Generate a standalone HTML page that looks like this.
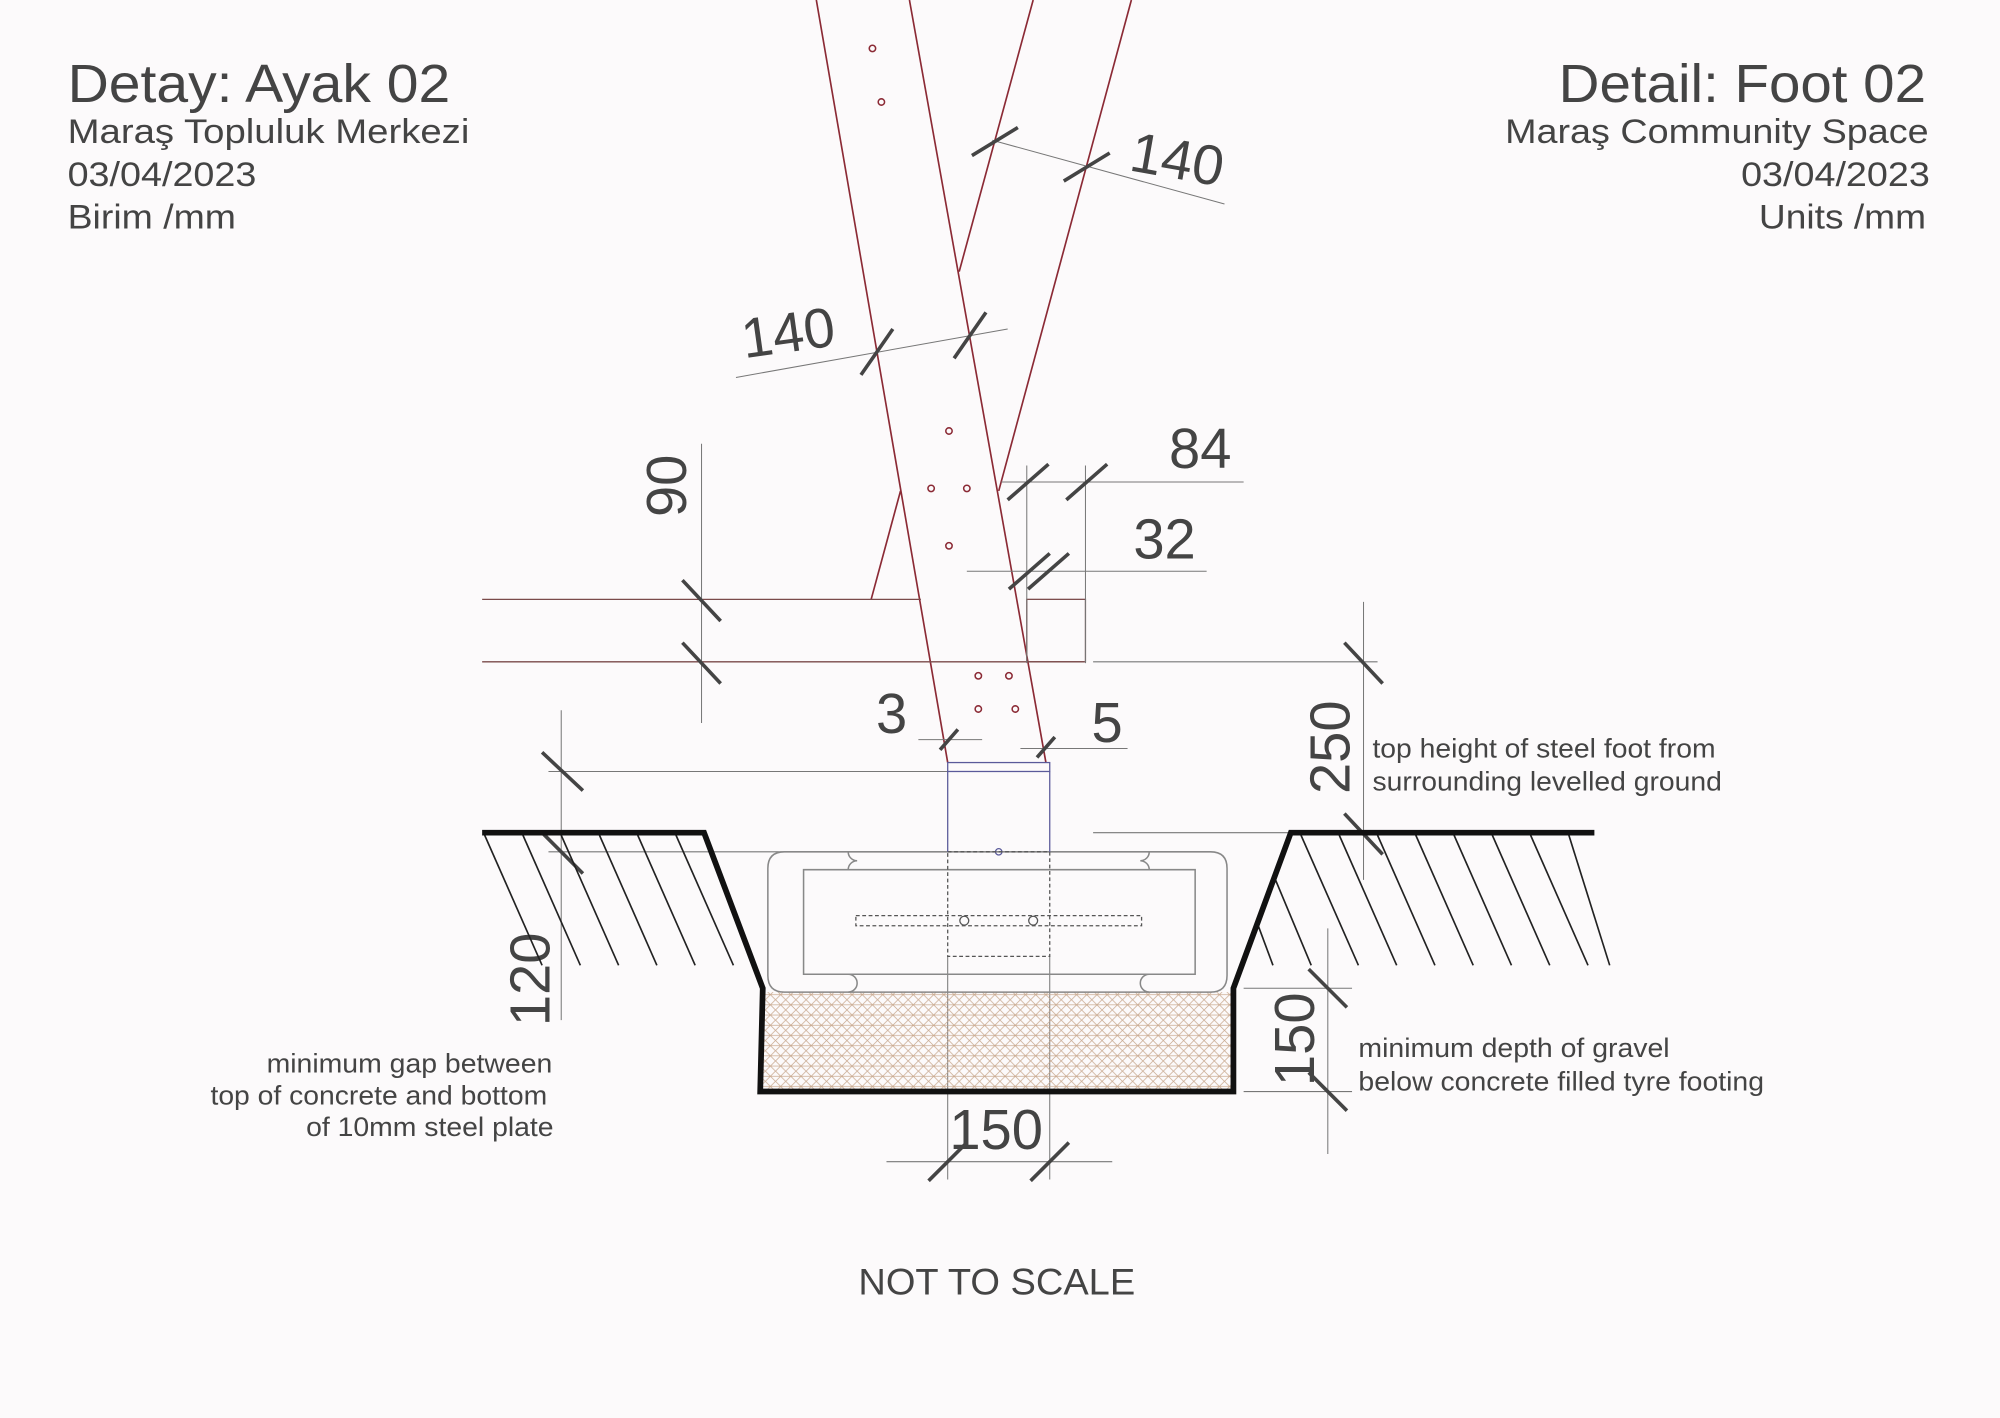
<!DOCTYPE html>
<html><head><meta charset="utf-8"><style>
html,body{margin:0;padding:0;background:#fcfafb;}
svg{display:block}
text{font-family:"Liberation Sans",sans-serif;fill:#444;}
</style></head><body>
<svg width="2000" height="1418" viewBox="0 0 1568 1112" preserveAspectRatio="none" xmlns="http://www.w3.org/2000/svg">
<defs>
<pattern id="grav" width="8" height="8" patternUnits="userSpaceOnUse">
<path d="M0 8 L8 0 M0 0 L8 8 M0 4 L8 4" stroke="#c9a98f" stroke-width="0.6" fill="none"/>
</pattern>
</defs>
<rect width="1568" height="1112" fill="#fcfafb"/>
<!-- titles -->
<g lengthAdjust="spacingAndGlyphs">
<text x="53" y="80" font-size="42" textLength="300" lengthAdjust="spacingAndGlyphs">Detay: Ayak 02</text>
<text x="53" y="112" font-size="27" textLength="315" lengthAdjust="spacingAndGlyphs">Maraş Topluluk Merkezi</text>
<text x="53" y="146" font-size="27" textLength="148" lengthAdjust="spacingAndGlyphs">03/04/2023</text>
<text x="53" y="179" font-size="27" textLength="132" lengthAdjust="spacingAndGlyphs">Birim /mm</text>
<text x="1222" y="80" font-size="42" textLength="288" lengthAdjust="spacingAndGlyphs">Detail: Foot 02</text>
<text x="1180" y="112" font-size="27" textLength="332" lengthAdjust="spacingAndGlyphs">Maraş Community Space</text>
<text x="1365" y="146" font-size="27" textLength="148" lengthAdjust="spacingAndGlyphs">03/04/2023</text>
<text x="1379" y="179" font-size="27" textLength="131" lengthAdjust="spacingAndGlyphs">Units /mm</text>
<text x="673" y="1015" font-size="29" textLength="217" lengthAdjust="spacingAndGlyphs">NOT TO SCALE</text>
</g>

<!-- timber members -->
<g stroke="#8b2a35" stroke-width="1.3" fill="none">
<line x1="640" y1="0" x2="743" y2="598"/>
<line x1="713" y1="0" x2="820" y2="598"/>
<line x1="810" y1="0" x2="752" y2="213"/>
<line x1="706" y1="385" x2="683" y2="470"/>
<line x1="887" y1="0" x2="783" y2="385"/>
</g>
<g fill="none" stroke="#8b2a35" stroke-width="1.2">
<circle cx="684" cy="38" r="2.5"/><circle cx="691" cy="80" r="2.5"/>
<circle cx="744" cy="338" r="2.5"/><circle cx="730" cy="383" r="2.5"/><circle cx="758" cy="383" r="2.5"/>
<circle cx="744" cy="428" r="2.5"/><circle cx="767" cy="530" r="2.5"/><circle cx="791" cy="530" r="2.5"/>
<circle cx="767" cy="556" r="2.5"/><circle cx="796" cy="556" r="2.5"/>
</g>
<!-- horizontal beam -->
<g stroke="#7a4a4a" stroke-width="1" fill="none">
<line x1="378" y1="470" x2="722" y2="470"/>
<line x1="378" y1="519" x2="850" y2="519"/>
<rect x="805" y="470" width="46" height="49"/>
</g>
<!-- dimension lines thin -->
<g stroke="#777" stroke-width="0.8" fill="none">
<line x1="577" y1="296" x2="790" y2="258"/>
<line x1="778" y1="110" x2="960" y2="160"/>
<line x1="785" y1="378" x2="975" y2="378"/>
<line x1="758" y1="448" x2="946" y2="448"/>
<line x1="805" y1="365" x2="805" y2="520"/>
<line x1="851" y1="365" x2="851" y2="520"/>
<line x1="550" y1="348" x2="550" y2="567"/>
<line x1="857" y1="519" x2="1080" y2="519"/>
<line x1="857" y1="653" x2="1080" y2="653"/>
<line x1="1069" y1="472" x2="1069" y2="690"/>
<line x1="440" y1="557" x2="440" y2="800"/>
<line x1="430" y1="605" x2="743" y2="605"/>
<line x1="430" y1="668" x2="743" y2="668"/>
<line x1="720" y1="580" x2="770" y2="580"/>
<line x1="800" y1="587" x2="884" y2="587"/>
<line x1="1041" y1="728" x2="1041" y2="905"/>
<line x1="975" y1="775" x2="1060" y2="775"/>
<line x1="975" y1="856" x2="1060" y2="856"/>
<line x1="695" y1="911" x2="872" y2="911"/>
<line x1="743" y1="750" x2="743" y2="925"/>
<line x1="823" y1="750" x2="823" y2="925"/>
</g>
<!-- ticks -->
<g stroke="#444" stroke-width="2.8" fill="none">
<line x1="675" y1="294" x2="700" y2="258"/>
<line x1="748" y1="281" x2="773" y2="245"/>
<line x1="762" y1="122" x2="798" y2="100"/>
<line x1="834" y1="142" x2="870" y2="120"/>
<line x1="790" y1="392" x2="822" y2="364"/>
<line x1="836" y1="392" x2="868" y2="364"/>
<line x1="791" y1="462" x2="823" y2="434"/>
<line x1="806" y1="462" x2="838" y2="434"/>
<line x1="535" y1="455" x2="565" y2="487"/>
<line x1="535" y1="504" x2="565" y2="536"/>
<line x1="1054" y1="504" x2="1084" y2="536"/>
<line x1="1054" y1="638" x2="1084" y2="670"/>
<line x1="425" y1="590" x2="457" y2="620"/>
<line x1="425" y1="653" x2="457" y2="685"/>
<line x1="737" y1="588" x2="751" y2="572"/>
<line x1="813" y1="594" x2="827" y2="578"/>
<line x1="1026" y1="760" x2="1056" y2="790"/>
<line x1="1026" y1="841" x2="1056" y2="871"/>
<line x1="728" y1="926" x2="758" y2="896"/>
<line x1="808" y1="926" x2="838" y2="896"/>
</g>
<!-- dim texts -->
<g font-size="44">
<text x="618" y="276" text-anchor="middle" transform="rotate(-8 618 262)">140</text>
<text x="923" y="140" text-anchor="middle" transform="rotate(10 923 125)">140</text>
<text x="941" y="367" text-anchor="middle">84</text>
<text x="913" y="438" text-anchor="middle">32</text>
<text x="699" y="575" text-anchor="middle">3</text>
<text x="868" y="582" text-anchor="middle">5</text>
<text x="781" y="901" text-anchor="middle">150</text>
<text x="0" y="0" text-anchor="middle" transform="translate(538 381) rotate(-90)">90</text>
<text x="0" y="0" text-anchor="middle" transform="translate(1058 586) rotate(-90)">250</text>
<text x="0" y="0" text-anchor="middle" transform="translate(431 768) rotate(-90)">120</text>
<text x="0" y="0" text-anchor="middle" transform="translate(1030 815) rotate(-90)">150</text>
</g>
<!-- annotations -->
<g font-size="21">
<text x="1076" y="594" textLength="269" lengthAdjust="spacingAndGlyphs">top height of steel foot from</text>
<text x="1076" y="620" textLength="274" lengthAdjust="spacingAndGlyphs">surrounding levelled ground</text>
<text x="1065" y="829" textLength="244" lengthAdjust="spacingAndGlyphs">minimum depth of gravel</text>
<text x="1065" y="855" textLength="318" lengthAdjust="spacingAndGlyphs">below concrete filled tyre footing</text>
<text x="209" y="841" textLength="224" lengthAdjust="spacingAndGlyphs">minimum gap between</text>
<text x="165" y="866" textLength="264" lengthAdjust="spacingAndGlyphs">top of concrete and bottom</text>
<text x="240" y="891" textLength="194" lengthAdjust="spacingAndGlyphs">of 10mm steel plate</text>
</g>
<!-- gravel -->
<rect x="598" y="778" width="368" height="77" fill="url(#grav)"/>
<!-- tyre -->
<g stroke="#888" stroke-width="1.2" fill="#fcfafb">
<path d="M615 668 H665 A7 7 0 0 0 672 675 A7 7 0 0 0 665 682 H630 V764 H665 A7 7 0 0 1 672 771 A7 7 0 0 1 665 778 H615 Q602 778 602 765 V681 Q602 668 615 668 Z"/>
<path d="M949 668 H901 A7 7 0 0 1 894 675 A7 7 0 0 1 901 682 H937 V764 H901 A7 7 0 0 0 894 771 A7 7 0 0 0 901 778 H949 Q962 778 962 765 V681 Q962 668 949 668 Z"/>
<line x1="665" y1="668" x2="901" y2="668"/>
<line x1="665" y1="682" x2="901" y2="682"/>
<line x1="665" y1="764" x2="901" y2="764"/>
<line x1="665" y1="778" x2="901" y2="778"/>
</g>
<!-- steel foot -->
<g stroke="#5a5a9a" stroke-width="1" fill="none">
<rect x="743" y="598" width="80" height="7"/>
<line x1="743" y1="605" x2="743" y2="668"/>
<line x1="823" y1="605" x2="823" y2="668"/>
<circle cx="783" cy="668" r="2.5"/>
</g>
<g stroke="#555" stroke-width="1" fill="none" stroke-dasharray="3 2">
<rect x="743" y="668" width="80" height="82"/>
<rect x="671" y="718" width="224" height="8"/>
</g>
<g stroke="#555" stroke-width="1" fill="none">
<circle cx="756" cy="722" r="3.5"/><circle cx="810" cy="722" r="3.5"/>
</g>
<!-- hatch -->
<g stroke="#222" stroke-width="1.3">
<line x1="380" y1="655" x2="425" y2="757"/>
<line x1="410" y1="655" x2="455" y2="757"/>
<line x1="440" y1="655" x2="485" y2="757"/>
<line x1="470" y1="655" x2="515" y2="757"/>
<line x1="500" y1="655" x2="545" y2="757"/>
<line x1="530" y1="655" x2="575" y2="757"/>
<line x1="1000" y1="690" x2="1028" y2="757"/>
<line x1="1020" y1="655" x2="1065" y2="757"/>
<line x1="1050" y1="655" x2="1095" y2="757"/>
<line x1="1080" y1="655" x2="1125" y2="757"/>
<line x1="1110" y1="655" x2="1155" y2="757"/>
<line x1="1140" y1="655" x2="1185" y2="757"/>
<line x1="1170" y1="655" x2="1215" y2="757"/>
<line x1="1200" y1="655" x2="1245" y2="757"/>
<line x1="1230" y1="655" x2="1262" y2="757"/>
<line x1="985" y1="722" x2="998" y2="757"/>
</g>
<polyline points="378,653 552,653 598,775 596,856 967,856 967,775 1012,653 1250,653" fill="none" stroke="#111" stroke-width="4.5"/>
</svg>
</body></html>
